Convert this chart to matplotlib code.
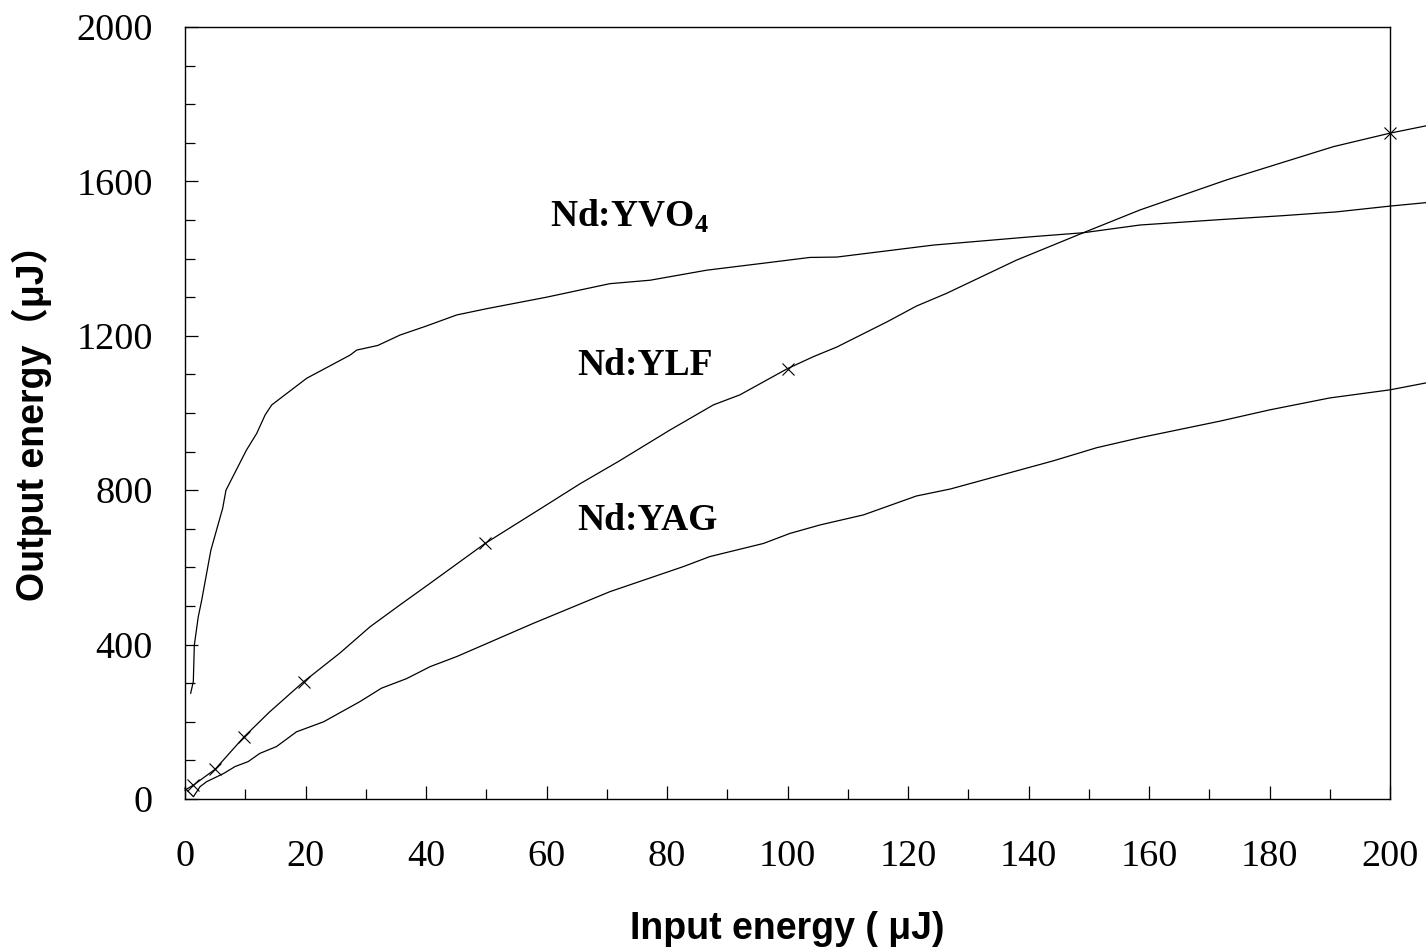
import matplotlib
matplotlib.use("Agg")
import matplotlib.pyplot as plt
from matplotlib.ticker import MultipleLocator

plt.rcParams['mathtext.fontset'] = 'custom'
plt.rcParams['mathtext.rm'] = 'Liberation Serif:bold'
plt.rcParams['mathtext.bf'] = 'Liberation Serif:bold'

# input energy (uJ) / output energy (uJ)
yvo4_x = [0.94, 1.38, 1.55, 2.2, 2.77, 4.3, 6.25, 6.8, 10.2, 11.9, 13.3, 14.4,
          20.2, 27.4, 28.5, 32, 35.7, 40, 45.1, 50, 60, 70.5, 77.2, 86.6, 96.5,
          103.7, 108.2, 124.2, 140.8, 149.1, 158.5, 171.8, 182, 191.1, 200, 206]
yvo4_y = [274, 304, 399, 472, 515, 645, 753, 800, 904, 947, 995, 1021,
          1090, 1150, 1163, 1175, 1202, 1225, 1254, 1270, 1300, 1335, 1344, 1370, 1389,
          1403, 1404, 1435, 1457, 1467, 1487, 1501, 1511, 1521, 1536, 1545]

ylf_x = [0, 1.4, 5, 9.8, 14, 19.7, 25.7, 30.7, 35.7, 40.7, 49.8, 59, 65.6, 72,
         80.5, 87.7, 92.1, 100, 104.3, 108.2, 116.5, 121.4, 126.4, 138, 149.1,
         158.5, 172.9, 190.6, 200, 206]
ylf_y = [23, 36, 77, 161, 225, 304, 378, 446, 503, 559, 662, 752, 817, 875,
         956, 1021, 1047, 1115, 1146, 1171, 1236, 1277, 1310, 1396, 1467,
         1526, 1604, 1690, 1725, 1744]
ylf_marks = [1, 2, 3, 5, 10, 17, 28]  # measured points shown with x

yag_x = [0, 1.4, 2.5, 3.6, 6.4, 8.3, 10.5, 12.4, 15.2, 18.5, 23, 29, 32.6, 36.8,
         40.7, 45.1, 57.8, 70.5, 82.7, 87.1, 96, 100.4, 105.4, 112.6, 121.4, 127,
         144.1, 151.3, 158.5, 171.8, 180, 190, 200, 206]
yag_y = [28, 6, 32, 45, 66, 84, 97, 118, 136, 174, 200, 252, 287, 312,
         343, 369, 455, 537, 602, 628, 662, 688, 710, 736, 785, 803,
         876, 910, 936, 979, 1008, 1039, 1060, 1078]

labels = ["Nd:YVO$_4$", "Nd:YLF", "Nd:YAG"]
label_pos = [(60.6, 1482), (65.1, 1098), (65.1, 697)]

fig = plt.figure(figsize=(14.26, 9.51), dpi=100)
ax = fig.add_axes([185/1426, 152/951, 1205/1426, 772/951])

ax.plot(yvo4_x, yvo4_y, color="black", lw=0.9, clip_on=False)
ax.plot(ylf_x, ylf_y, color="black", lw=0.9, clip_on=False,
        marker="x", markevery=ylf_marks, markersize=8, mew=0.8)
ax.plot(yag_x, yag_y, color="black", lw=0.9, clip_on=False)

for txt, (lx, ly) in zip(labels, label_pos):
    ax.text(lx, ly, txt, fontsize=27, fontweight="bold",
            family="Liberation Serif", ha="left", va="baseline")

ax.set_xlim(0, 200)
ax.set_ylim(0, 2000)
ax.xaxis.set_major_locator(MultipleLocator(20))
ax.xaxis.set_minor_locator(MultipleLocator(10))
ax.yaxis.set_major_locator(MultipleLocator(400))
ax.yaxis.set_minor_locator(MultipleLocator(100))
ax.tick_params(which="both", direction="in", width=0.9, top=False, right=False)
ax.tick_params(which="major", length=9.4)
ax.tick_params(which="minor", length=7.2)
ax.tick_params(axis="x", which="major", pad=29)
ax.tick_params(axis="y", which="major", pad=23)
for lab in ax.get_xticklabels() + ax.get_yticklabels():
    lab.set_family("Liberation Serif")
    lab.set_fontsize(27.5)

for s in ax.spines.values():
    s.set_linewidth(1.0)

ax.set_xlabel("Input energy ( μJ)", fontsize=27, fontweight="bold",
              family=["Liberation Sans", "DejaVu Sans"], labelpad=27)
ax.set_ylabel("Output energy（μJ）", fontsize=27, fontweight="bold",
              family=["Liberation Sans", "Noto Sans CJK JP"], labelpad=18)

fig.savefig("out.png", dpi=100)
